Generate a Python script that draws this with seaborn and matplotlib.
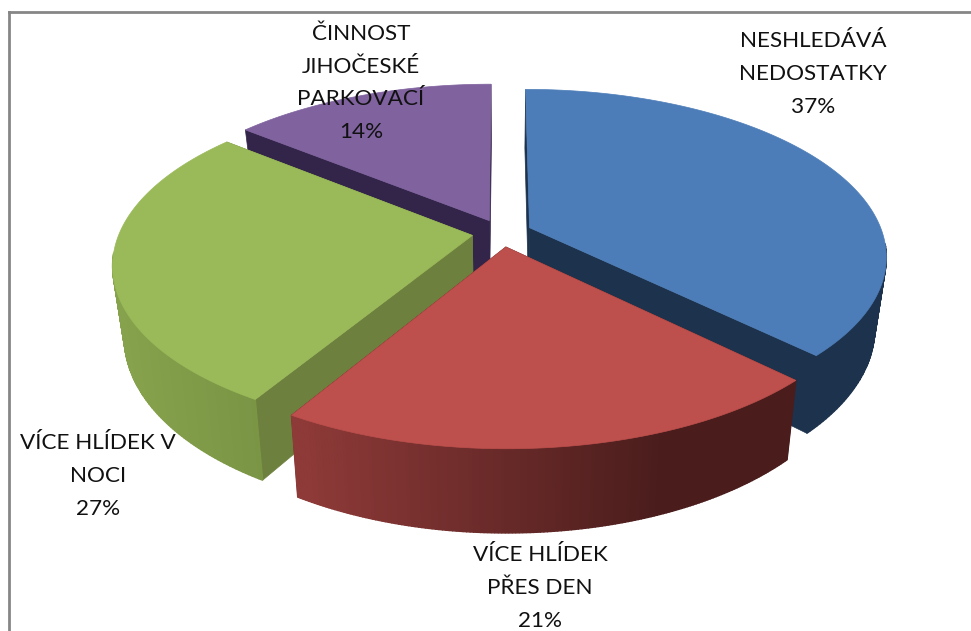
#!/bin/env -S python3

import numpy as np
import matplotlib.pyplot as plt
import matplotlib.colors as mcolors
import seaborn as sns


LABELS = [ "NESHLEDÁVÁ\nNEDOSTATKY", "VÍCE HLÍDEK\nPŘES DEN", "VÍCE HLÍDEK V\nNOCI", "ČINNOST\nJIHOČESKÉ\nPARKOVACÍ" ]
PERCENTS = [ 37, 21, 27, 14 ]

TOP_COLORS = [ "#4d7db8", "#bd4f4c", "#9aba59", "#7f629e" ]
CUT_COLORS = [ "#1d324c", "#4b1d1c", "#6e803e", "#33254a" ]
RIM_LEFT = [ "#1d324c", "#8e3a38", "#87a24c", "#33254a" ]
RIM_RIGHT = [ "#1d324c", "#4a1d1c", "#799545", "#33254a" ]
LABEL_POS = [ (813, 74), (540, 588), (98, 476), (361, 83) ]

# picture geometry, in pixels
WIDTH, HEIGHT = 971, 631
CX, CY = 502, 233
RX, RY = 353, 163
CAMERA = 6.0
DEPTH = 69
BOTTOM_SHRINK = 0.97
EXPLODE = 0.085
PAINT_ORDER = [ 3, 2, 0, 1 ]


def project(x, y, bottom=False):
    s = CAMERA / (CAMERA + y)
    px = RX * x * s
    py = CY - RY * y * s
    if bottom:
        return CX + px * BOTTOM_SHRINK, py + DEPTH * s
    return CX + px, py


def face(ax, x0, y0, x1, y1, color, lw=0.5):
    tx0, ty0 = project(x0, y0)
    tx1, ty1 = project(x1, y1)
    bx1, by1 = project(x1, y1, bottom=True)
    bx0, by0 = project(x0, y0, bottom=True)
    ax.fill([tx0, tx1, bx1, bx0], [ty0, ty1, by1, by0], color=color, lw=lw)


def draw_slice(ax, wedge, i):
    cx, cy = wedge.center
    theta = np.radians(np.linspace(wedge.theta1, wedge.theta2, 160))
    xs = cx + np.cos(theta)
    ys = cy + np.sin(theta)

    face(ax, cx, cy, xs[0], ys[0], CUT_COLORS[i])
    face(ax, cx, cy, xs[-1], ys[-1], CUT_COLORS[i])

    # rim, shaded across the picture, back of the pie is hidden so skip it
    left = np.array(mcolors.to_rgb(RIM_LEFT[i]))
    right = np.array(mcolors.to_rgb(RIM_RIGHT[i]))
    span = (300, 660) if i == 1 else (120, 260)
    for k in np.argsort(-ys[:-1]):
        if ys[k] - cy > -0.1:
            continue
        px, _ = project(xs[k], ys[k])
        t = np.clip((px - span[0]) / (span[1] - span[0]), 0, 1)
        face(ax, xs[k], ys[k], xs[k + 1], ys[k + 1], tuple(left + (right - left) * t), lw=1)

    px, py = project(np.r_[cx, xs], np.r_[cy, ys])
    ax.fill(px, py, color=TOP_COLORS[i], lw=0.5)


def main() -> None:
    sns.set_style("white")
    plt.rcParams["font.family"] = [ "Lato", "DejaVu Sans" ]

    fig, ax = plt.subplots(figsize=(WIDTH / 100, HEIGHT / 100), dpi=100)
    ax.set_position([0, 0, 1, 1])

    wedges, _ = ax.pie(PERCENTS, startangle=90, counterclock=False, explode=[EXPLODE] * len(PERCENTS))
    ax.set_aspect("auto")
    ax.set_xlim(0, WIDTH)
    ax.set_ylim(HEIGHT, 0)
    ax.axis("off")

    for i in PAINT_ORDER:
        draw_slice(ax, wedges[i], i)
    for w in wedges:
        w.remove()

    for label, percent, (x, y) in zip(LABELS, PERCENTS, LABEL_POS):
        ax.text(x, y, f"{label}\n{percent}%", ha="center", va="center", fontsize=16.2, linespacing=1.8, color="#111111")

    ax.plot([8.5, 8.5], [HEIGHT, 11.5], color="#868686", lw=2, solid_capstyle="projecting")
    ax.plot([8.5, WIDTH], [11.5, 11.5], color="#868686", lw=2, solid_capstyle="projecting")

    fig.savefig("out.png", dpi=100)
    plt.close()


if __name__ == "__main__":
    main()
